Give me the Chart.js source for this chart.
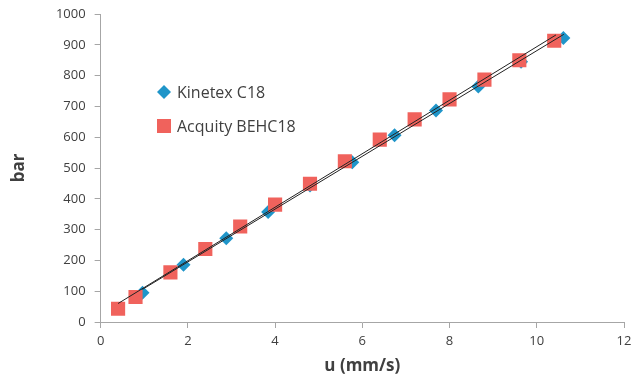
<!DOCTYPE html>
<html>
<head>
<meta charset="utf-8">
<script src="https://cdn.jsdelivr.net/npm/chart.js@4.4.1/dist/chart.umd.min.js"></script>
<style>
  html, body { margin: 0; padding: 0; background: #fff; }
  #wrap { width: 634px; height: 378px; }
</style>
</head>
<body>
<div id="wrap"><canvas id="myChart" width="634" height="378"></canvas></div>
<script>
const ctx = document.getElementById('myChart');

// Kinetex C18 (blue diamonds)
const kinetexU = [0.96, 1.9, 2.88, 3.84, 4.8, 5.77, 6.74, 7.69, 8.66, 9.64, 10.61];
const kinetexBar = [95, 186, 272, 357, 443, 519, 606, 687, 765, 845, 922];

// Acquity BEHC18 (red squares)
const acquityU = [0.4, 0.8, 1.6, 2.4, 3.2, 4.0, 4.8, 5.6, 6.4, 7.2, 8.0, 8.8, 9.6, 10.4];
const acquityBar = [43, 81, 161, 237, 310, 381, 449, 522, 592, 658, 723, 787, 850, 913];

// linear trendlines (end points)
const kinetexFitU = [0.96, 10.62];
const kinetexFitBar = [106, 934];
const acquityFitU = [0.4, 10.44];
const acquityFitBar = [60, 932];

const xTicks = [0, 2, 4, 6, 8, 10, 12];
const yTicks = [0, 100, 200, 300, 400, 500, 600, 700, 800, 900, 1000];

const legendNames = ['Kinetex C18', 'Acquity BEHC18'];

const BLUE = '#1f95c9';
const RED = '#f0625c';
const AXIS = '#a6a6a6';
const TEXT = '#404040';

const toPoints = (xs, ys) => xs.map((x, i) => ({ x: x, y: ys[i] }));

const insideLegend = {
    id: 'insideLegend',
    afterDraw: (chart) => {
        const c = chart.ctx;
        c.save();
        // diamond
        c.fillStyle = BLUE;
        c.beginPath();
        c.moveTo(164, 85);
        c.lineTo(171, 92);
        c.lineTo(164, 99);
        c.lineTo(157, 92);
        c.closePath();
        c.fill();
        // square
        c.fillStyle = RED;
        c.fillRect(157, 119, 14, 14);
        c.fillStyle = TEXT;
        c.font = '16px "Open Sans"';
        c.textBaseline = 'middle';
        c.fillText(legendNames[0], 177, 93);
        c.fillText(legendNames[1], 177, 127);
        c.restore();
    }
};

new Chart(ctx, {
    type: 'scatter',
    data: {
        datasets: [
            {
                label: 'Acquity fit',
                data: toPoints(acquityFitU, acquityFitBar),
                showLine: true,
                borderColor: '#222',
                borderWidth: 1,
                pointRadius: 0,
                order: 0
            },
            {
                label: 'Kinetex fit',
                data: toPoints(kinetexFitU, kinetexFitBar),
                showLine: true,
                borderColor: '#222',
                borderWidth: 1,
                pointRadius: 0,
                order: 0
            },
            {
                label: legendNames[1],
                data: toPoints(acquityU, acquityBar),
                pointStyle: 'rect',
                pointRadius: 10,
                pointHoverRadius: 10,
                borderWidth: 0,
                backgroundColor: RED,
                borderColor: RED,
                order: 1
            },
            {
                label: legendNames[0],
                data: toPoints(kinetexU, kinetexBar),
                pointStyle: 'rectRot',
                pointRadius: 7,
                pointHoverRadius: 7,
                borderWidth: 0,
                backgroundColor: BLUE,
                borderColor: BLUE,
                order: 2
            }
        ]
    },
    plugins: [insideLegend],
    options: {
        responsive: false,
        animation: false,
        layout: {
            padding: { top: 14, left: 8.5, right: 7, bottom: 2 }
        },
        plugins: {
            legend: { display: false },
            tooltip: { enabled: false }
        },
        scales: {
            x: {
                type: 'linear',
                min: 0,
                max: 12,
                afterBuildTicks: (axis) => { axis.ticks = xTicks.map(v => ({ value: v })); },
                afterFit: (axis) => { axis.paddingRight = 0; axis.paddingLeft = 0; },
                ticks: {
                    color: TEXT,
                    font: { family: 'Open Sans', size: 13 },
                    padding: 5,
                    callback: (v) => String(v)
                },
                grid: {
                    display: true,
                    drawOnChartArea: false,
                    drawTicks: true,
                    tickLength: 6,
                    color: AXIS
                },
                border: { display: true, color: AXIS, width: 1 },
                title: {
                    display: true,
                    text: 'u (mm/s)',
                    color: TEXT,
                    font: { family: 'Open Sans', size: 17, weight: 'bold' },
                    padding: { top: 2, bottom: 0 }
                }
            },
            y: {
                min: 0,
                max: 1000,
                afterBuildTicks: (axis) => { axis.ticks = yTicks.map(v => ({ value: v })); },
                afterFit: (axis) => { axis.paddingTop = 0; axis.paddingBottom = 0; },
                ticks: {
                    color: TEXT,
                    font: { family: 'Open Sans', size: 13 },
                    padding: 9,
                    callback: (v) => String(v)
                },
                grid: {
                    display: true,
                    drawOnChartArea: false,
                    drawTicks: true,
                    tickLength: 6,
                    color: AXIS
                },
                border: { display: true, color: AXIS, width: 1 },
                title: {
                    display: true,
                    text: 'bar',
                    color: TEXT,
                    font: { family: 'Open Sans', size: 17, weight: 'bold' },
                    padding: { top: 0, bottom: 18 }
                }
            }
        }
    }
});
</script>
</body>
</html>
